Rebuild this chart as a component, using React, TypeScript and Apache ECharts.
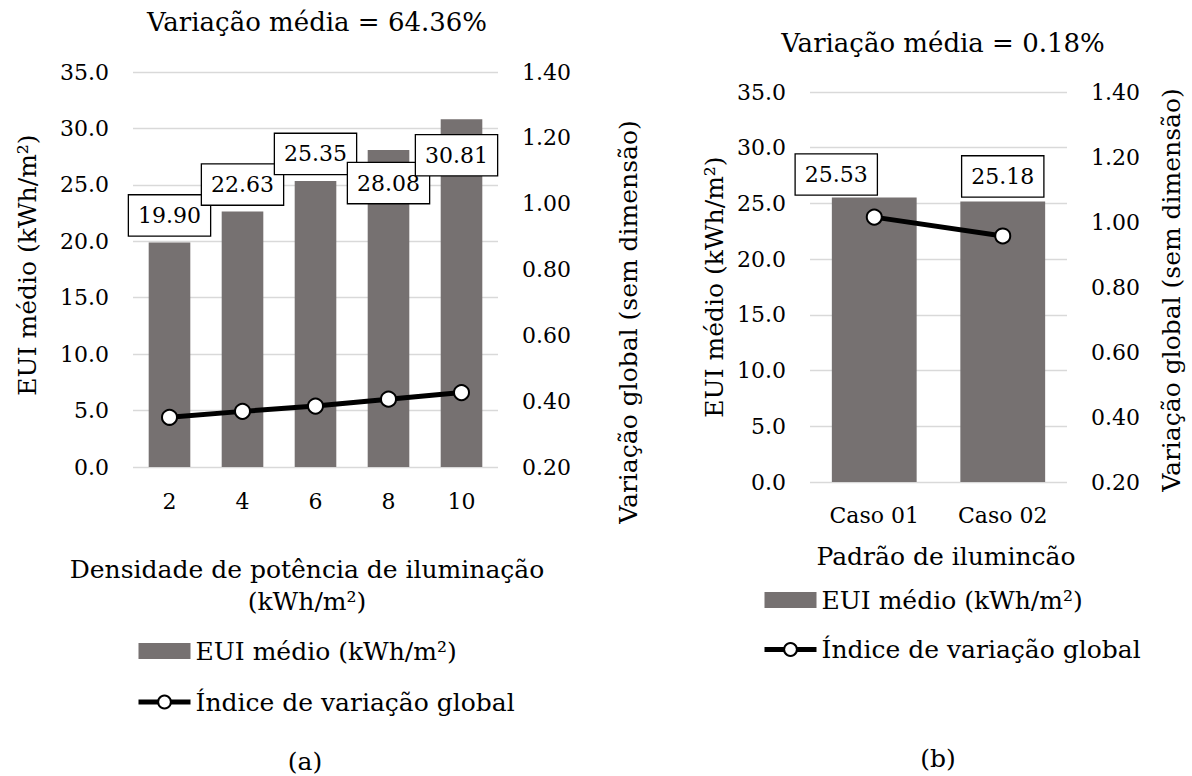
import React, { useEffect, useRef } from "react";
import * as echarts from "echarts";

const FONT = "'DejaVu Serif', 'Liberation Serif', serif";
const BAR_COLOR = "#767171";
const GRID_COLOR = "#d9d9d9";

// ---- Data: chart (a)
const categoriesA = ["2", "4", "6", "8", "10"];
const euiA = [19.9, 22.63, 25.35, 28.08, 30.81];
const indexA = [0.351, 0.369, 0.385, 0.406, 0.426];

// ---- Data: chart (b)
const categoriesB = ["Caso 01", "Caso 02"];
const euiB = [25.53, 25.18];
const indexB = [1.015, 0.957];

// ---- Axis ticks
const leftMin = 0;
const leftMax = 35;
const leftStep = 5;
const rightMin = 0.2;
const rightMax = 1.4;
const rightStep = 0.2;

// ---- Texts
const titleA = "Variação média = 64.36%";
const titleB = "Variação média = 0.18%";
const seriesBarName = "EUI médio (kWh/m²)";
const seriesLineName = "Índice de variação global";
const yLeftName = "EUI médio (kWh/m²)";
const yRightName = "Variação global (sem dimensão)";
const xNameA = ["Densidade de potência de iluminação", "(kWh/m²)"];
const xNameB = "Padrão de ilumincão";

// label nudges (layout only)
const labelNudgeA = [[0, 0], [0, 0], [0, 0], [0, 60], [-5, 63]];
const labelNudgeB = [[-38, 4], [0, 2]];

const txt = { fontFamily: FONT, color: "#000", fontSize: 22 };
const NAME_SIZE = 25;

function leftAxis(gridIndex: number) {
  return {
    type: "value",
    gridIndex,
    position: "left",
    min: leftMin,
    max: leftMax,
    interval: leftStep,
    axisLine: { show: false },
    axisTick: { show: false },
    axisLabel: { ...txt, margin: 24, formatter: (v: number) => v.toFixed(1) },
    splitLine: { show: true, lineStyle: { color: GRID_COLOR, width: 1.4 } },
  };
}
function rightAxis(gridIndex: number) {
  return {
    type: "value",
    gridIndex,
    position: "right",
    min: rightMin,
    max: rightMax,
    interval: rightStep,
    axisLine: { show: false },
    axisTick: { show: false },
    axisLabel: { ...txt, margin: 24, formatter: (v: number) => v.toFixed(2) },
    splitLine: { show: false },
  };
}
function catAxis(gridIndex: number, data: string[], margin: number) {
  return {
    type: "category",
    gridIndex,
    data,
    axisLine: { show: false },
    axisTick: { show: false },
    axisLabel: { ...txt, margin },
  };
}
const barLabel = {
  show: true,
  position: "top",
  distance: 7,
  formatter: (p: any) => Number(p.value).toFixed(2),
  ...txt,
  lineHeight: 26,
  backgroundColor: "#fff",
  borderColor: "#000",
  borderWidth: 1.3,
  padding: [7, 9, 7, 9],
};
const lineStyleCommon = {
  lineStyle: { color: "#000", width: 5 },
  symbol: "circle",
  symbolSize: 15,
  itemStyle: { color: "#fff", borderColor: "#000", borderWidth: 2 },
};

function text(x: number, y: number, s: string, size = NAME_SIZE, rotation = 0) {
  return {
    type: "text",
    x,
    y,
    rotation,
    style: {
      text: s,
      fontFamily: FONT,
      fontSize: size,
      fill: "#000",
      align: "center",
      verticalAlign: "middle",
    },
  };
}

export default function App() {
  const ref = useRef<HTMLDivElement>(null);
  useEffect(() => {
    if (!ref.current) return;
    const chart = echarts.init(ref.current, null, { renderer: "svg" });
    const legendBase = {
      orient: "vertical",
      padding: 0,
      itemWidth: 52,
      itemHeight: 16,
      selectedMode: false,
      textStyle: { fontFamily: FONT, color: "#000", fontSize: NAME_SIZE, lineHeight: 26 },
      data: [
        { name: seriesBarName, icon: "rect" },
        {
          name: seriesLineName,
          lineStyle: { color: "#000", width: 5 },
          itemStyle: { color: "#fff", borderColor: "#000", borderWidth: 2 },
        },
      ],
    };
    chart.setOption({
      animation: false,
      backgroundColor: "#fff",
      grid: [
        { left: 133, right: 1192 - 498, top: 72, bottom: 776 - 467 },
        { left: 810, right: 1192 - 1067, top: 92, bottom: 776 - 482 },
      ],
      xAxis: [catAxis(0, categoriesA, 23), catAxis(1, categoriesB, 22)],
      yAxis: [leftAxis(0), rightAxis(0), leftAxis(1), rightAxis(1)],
      legend: [
        { ...legendBase, left: 136, top: 638, itemGap: 25 },
        { ...legendBase, left: 762, top: 587, itemGap: 23.5 },
      ],
      series: [
        {
          name: seriesBarName,
          type: "bar",
          xAxisIndex: 0,
          yAxisIndex: 0,
          barCategoryGap: "43%",
          itemStyle: { color: BAR_COLOR },
          label: barLabel,
          data: euiA.map((v, i) => ({ value: v, label: { offset: labelNudgeA[i] } })),
          z: 2,
        },
        {
          name: seriesLineName,
          type: "line",
          xAxisIndex: 0,
          yAxisIndex: 1,
          ...lineStyleCommon,
          data: indexA,
          z: 3,
        },
        {
          name: seriesBarName,
          type: "bar",
          xAxisIndex: 1,
          yAxisIndex: 2,
          barCategoryGap: "34%",
          itemStyle: { color: BAR_COLOR },
          label: barLabel,
          data: euiB.map((v, i) => ({ value: v, label: { offset: labelNudgeB[i] } })),
          z: 2,
        },
        {
          name: seriesLineName,
          type: "line",
          xAxisIndex: 1,
          yAxisIndex: 3,
          ...lineStyleCommon,
          data: indexB,
          z: 3,
        },
      ],
      graphic: [
        text(317, 22, titleA, 26),
        text(943, 43, titleB, 26),
        text(27, 265, yLeftName, NAME_SIZE, Math.PI / 2),
        text(628, 322, yRightName, NAME_SIZE, Math.PI / 2),
        text(714, 287, yLeftName, NAME_SIZE, Math.PI / 2),
        text(1171, 290, yRightName, NAME_SIZE, Math.PI / 2),
        text(307, 569, xNameA[0]),
        text(307, 601, xNameA[1]),
        text(946, 556, xNameB),
        text(305, 761, "(a)"),
        text(938, 758, "(b)"),
      ],
    });
    return () => chart.dispose();
  }, []);
  return (
    <div
      ref={ref}
      style={{ position: "fixed", left: 0, top: 0, width: 1192, height: 776, background: "#fff" }}
    />
  );
}
